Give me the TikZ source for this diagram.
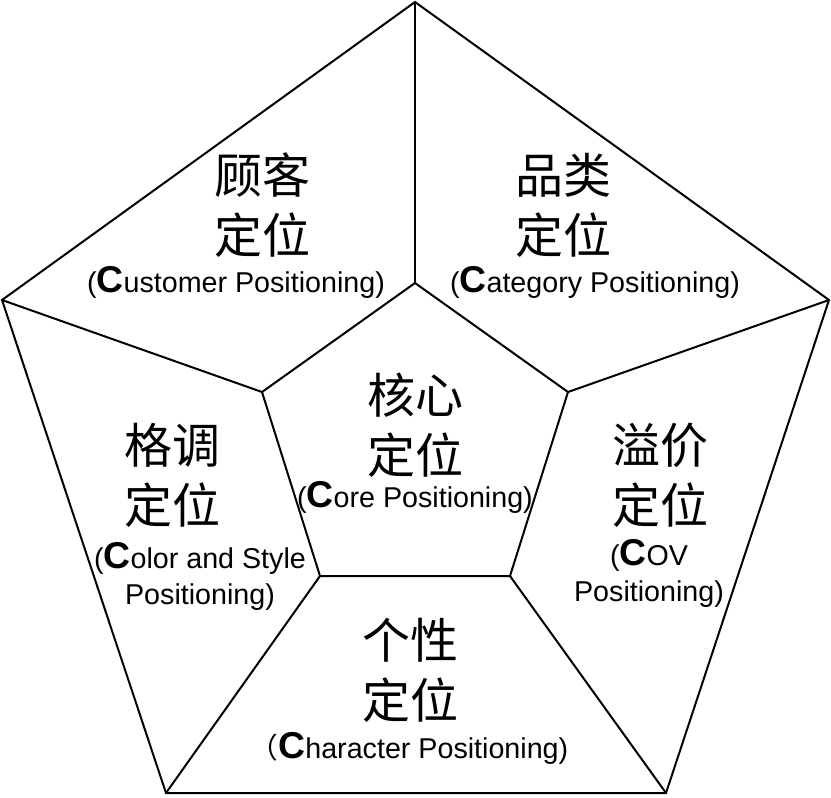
\documentclass[tikz,border=0pt]{standalone}
\usepackage{fontspec}
\setmainfont{Liberation Sans}
\newfontfamily\cjk{Noto Sans CJK SC}
\newcommand{\bigC}{{\bfseries\fontsize{28}{28}\selectfont C}}

\begin{document}
\begin{tikzpicture}[x=0.75pt, y=-0.75pt,
  every path/.style={line width=1.5pt, line join=miter},
  cn/.style={font=\cjk\fontsize{36}{45}\selectfont, align=center, inner sep=0pt},
  en/.style={font=\fontsize{21.5}{27}\selectfont, align=center, inner sep=0pt},
]
\useasboundingbox (0,0) rectangle (831,797);
% outer pentagon
\coordinate (oT) at (415,2);
\coordinate (oR) at (829,300);
\coordinate (oBR) at (666,793);
\coordinate (oBL) at (166,793);
\coordinate (oL) at (2,300);
% inner pentagon
\coordinate (iT) at (415,283);
\coordinate (iR) at (568,392);
\coordinate (iBR) at (510,576);
\coordinate (iBL) at (320,576);
\coordinate (iL) at (262,392);
\draw (oT) -- (oR) -- (oBR) -- (oBL) -- (oL) -- cycle;
\draw (iT) -- (iR) -- (iBR) -- (iBL) -- (iL) -- cycle;
\draw (iT) -- (oT);
\draw (iR) -- (oR);
\draw (iBR) -- (oBR);
\draw (iBL) -- (oBL);
\draw (iL) -- (oL);
% labels
\node[cn] (customer) at (262,205) {顾客\\定位};
\node[en] (customerEn) at (236,282) {(\bigC ustomer Positioning)};
\node[cn] (category) at (563,205) {品类\\定位};
\node[en] (categoryEn) at (595,282) {(\bigC ategory Positioning)};
\node[cn] (core) at (415,425) {核心\\定位};
\node[en] (coreEn) at (415,497) {(\bigC ore Positioning)};
\node[cn] (color) at (172,475) {格调\\定位};
\node[en] (colorEn) at (200,576) {(\bigC olor and Style\\Positioning)};
\node[cn] (cov) at (660,475) {溢价\\定位};
\node[en] (covEn) at (649,573) {(\bigC OV\\Positioning)};
\node[cn] (character) at (410,670) {个性\\定位};
\node[en] (characterEn) at (409,748) {{\cjk （}\bigC haracter Positioning)};
\end{tikzpicture}
\end{document}
